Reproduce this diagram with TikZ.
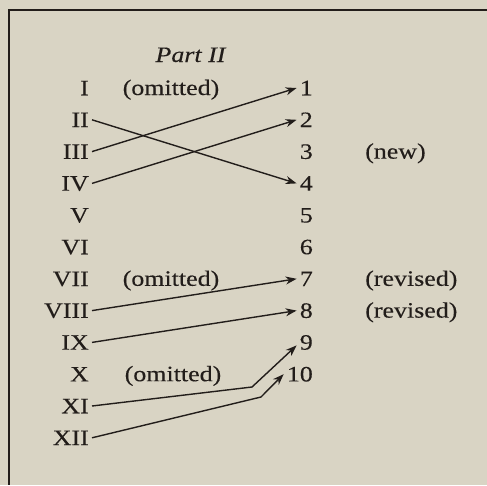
\documentclass[tikz,border=0pt]{standalone}
\usepackage{fontspec}
\setmainfont{Liberation Serif}[FakeStretch=1.18, FakeBold=0.2]
\usetikzlibrary{arrows.meta}
\definecolor{paper}{HTML}{D9D4C4}
\definecolor{ink}{HTML}{221D1A}

\begin{document}
\begin{tikzpicture}[x=1pt,y=-1pt,
  every node/.style={text=ink, font=\fontsize{22}{26}\selectfont},
  roman/.style={anchor=east, inner sep=3pt, text height=14.5pt, text depth=0pt},
  num/.style={anchor=east, inner sep=3pt, text height=14.5pt, text depth=0pt},
  note/.style={inner sep=0pt, anchor=base},
  link/.style={draw=ink, line width=1.4pt, -{Stealth[length=11pt,width=8pt,inset=3.5pt]}}]
\fill[paper] (0,0) rectangle (487,485);
\useasboundingbox (0,0) rectangle (487,485);

% frame (top and left rules)
\draw[ink, line width=2pt] (8,9.5) -- (487,9.5);
\draw[ink, line width=2pt] (9,9) -- (9,485);

% heading
\node[note] (head) at (191,62) {\textit{Part II}};

% old chapters
\node[roman] (r1)  at (92,88)    {I};
\node[roman] (r2)  at (92,119.8) {II};
\node[roman] (r3)  at (92,151.6) {III};
\node[roman] (r4)  at (92,183.4) {IV};
\node[roman] (r5)  at (92,215.2) {V};
\node[roman] (r6)  at (92,247)   {VI};
\node[roman] (r7)  at (92,278.8) {VII};
\node[roman] (r8)  at (92,310.6) {VIII};
\node[roman] (r9)  at (92,342.4) {IX};
\node[roman] (r10) at (92,374.2) {X};
\node[roman] (r11) at (92,406)   {XI};
\node[roman] (r12) at (92,437.8) {XII};

% new chapters
\node[num] (n1)  at (316,88)    {1};
\node[num] (n2)  at (316,119.8) {2};
\node[num] (n3)  at (316,151.6) {3};
\node[num] (n4)  at (316,183.4) {4};
\node[num] (n5)  at (316,215.2) {5};
\node[num] (n6)  at (316,247)   {6};
\node[num] (n7)  at (316,278.8) {7};
\node[num] (n8)  at (316,310.6) {8};
\node[num] (n9)  at (316,342.4) {9};
\node[num] (n10) at (316,374.2) {10};

% remarks
\node[note] (o1)  at (171,95)    {(omitted)};
\node[note] (o7)  at (171,285.8) {(omitted)};
\node[note] (o10) at (173,381.2) {(omitted)};
\node[note, anchor=base west] (new3) at (365,158.6) {(new)};
\node[note, anchor=base west] (rev7) at (365,285.8) {(revised)};
\node[note, anchor=base west] (rev8) at (365,317.6) {(revised)};

% moves
\draw[link] (r2.east) -- (n4.west);
\draw[link] (r3.east) -- (n1.west);
\draw[link] (r4.east) -- (n2.west);
\draw[link] (r8.east) -- (n7.west);
\draw[link] (r9.east) -- (n8.west);
\coordinate (b11) at (252,387);
\coordinate (b12) at (261,397);
\draw[link] (r11.east) -- (b11) -- ([yshift=-3pt]n9.west);
\draw[link] (r12.east) -- (b12) -- (n10.west);
\end{tikzpicture}
\end{document}
